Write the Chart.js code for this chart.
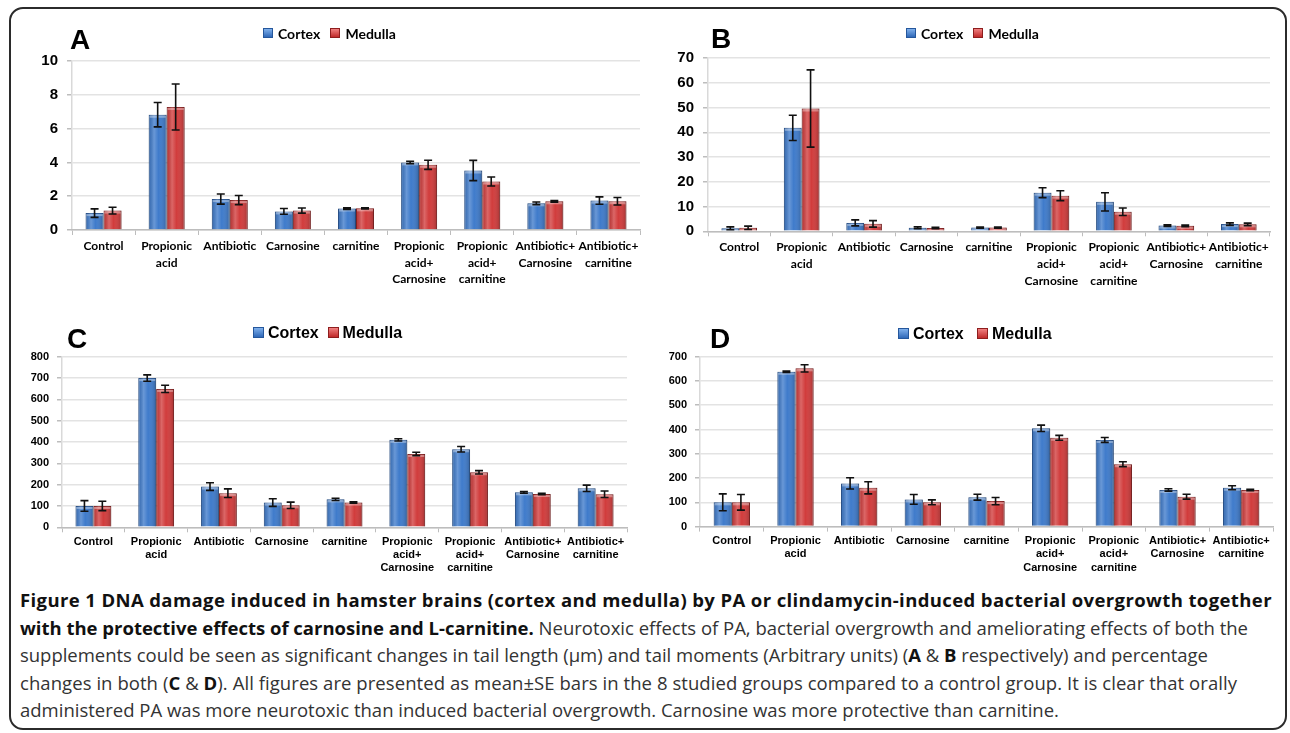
<!DOCTYPE html>
<html>
<head>
<meta charset="utf-8">
<script src="https://cdn.jsdelivr.net/npm/chart.js@4.4.1/dist/chart.umd.min.js"></script>
<style>
  body { margin: 0; background: #fff; width: 1290px; height: 733px; position: relative; overflow: hidden; }
  #frame { position: absolute; left: 9px; top: 7px; width: 1278px; height: 723px; border: 2px solid #2b2b2b;
           border-radius: 14px; box-sizing: border-box; }
  .panel { position: absolute; }
  .tag { position: absolute; font: bold 28px "Liberation Sans", Arial, sans-serif; color: #000; line-height: 1; }
  .leg { position: absolute; white-space: nowrap; color: #000; line-height: 1; }
  .leg i { display: inline-block; width: 8px; height: 8px; margin-right: 5px; vertical-align: 1px; }
  .legAB { font: bold 14px Lato, "Open Sans", sans-serif; }
  .legCD { font: bold 16px "Liberation Sans", Arial, sans-serif; }
  .legCD i { width: 9px; height: 9px; margin-right: 4px; vertical-align: 0; }
  .sq-b { background: linear-gradient(180deg, #7fb0ec, #2f68b8); border: 1px solid #25579c; }
  .sq-r { background: linear-gradient(180deg, #f08080, #c02a2a); border: 1px solid #8e1e1e; }
  #caption { position: absolute; left: 20px; top: 586px; color: #333;
             font-family: "Open Sans", "Noto Sans", sans-serif; font-size: 18.5px; }
  #caption div { white-space: nowrap; height: 27.5px; line-height: 27.5px; }
  #caption b { font-weight: 700; color: #111; }
</style>
</head>
<body>
<div id="frame"></div>

<div class="panel" style="left:10px;top:40px;width:650px;height:265px"><canvas id="chartA"></canvas></div>
<div class="panel" style="left:650px;top:40px;width:640px;height:265px"><canvas id="chartB"></canvas></div>
<div class="panel" style="left:10px;top:335px;width:640px;height:250px"><canvas id="chartC"></canvas></div>
<div class="panel" style="left:650px;top:335px;width:640px;height:250px"><canvas id="chartD"></canvas></div>

<div class="tag" style="left:70px;top:26px">A</div>
<div class="tag" style="left:711px;top:25px">B</div>
<div class="tag" style="left:67px;top:325px">C</div>
<div class="tag" style="left:710px;top:325px">D</div>

<div class="leg legAB" style="left:263px;top:25px"><i class="sq-b"></i>Cortex&nbsp;&nbsp;&nbsp;<i class="sq-r"></i>Medulla</div>
<div class="leg legAB" style="left:906px;top:25px"><i class="sq-b"></i>Cortex&nbsp;&nbsp;&nbsp;<i class="sq-r"></i>Medulla</div>
<div class="leg legCD" style="left:253px;top:324px"><i class="sq-b"></i>Cortex&nbsp;&nbsp;<i class="sq-r"></i>Medulla</div>
<div class="leg legCD" style="left:898px;top:325px"><i class="sq-b"></i>Cortex&nbsp;&nbsp;&nbsp;<i class="sq-r"></i>Medulla</div>

<div id="caption">
  <div data-w="1252"><b>Figure 1 DNA damage induced in hamster brains (cortex and medulla) by PA or clindamycin-induced bacterial overgrowth together</b></div>
  <div data-w="1228"><b>with the protective effects of carnosine and L-carnitine.</b> Neurotoxic effects of PA, bacterial overgrowth and ameliorating effects of both the</div>
  <div data-w="1188">supplements could be seen as significant changes in tail length (μm) and tail moments (Arbitrary units) (<b>A</b> &amp; <b>B</b> respectively) and percentage</div>
  <div data-w="1217">changes in both (<b>C</b> &amp; <b>D</b>). All figures are presented as mean±SE bars in the 8 studied groups compared to a control group. It is clear that orally</div>
  <div data-w="1039">administered PA was more neurotoxic than induced bacterial overgrowth. Carnosine was more protective than carnitine.</div>
</div>

<script>
// Grupos estudiados (eje X)
const groups = [
    ["Control"], ["Propionic", "acid"], ["Antibiotic"], ["Carnosine"], ["carnitine"],
    ["Propionic", "acid+", "Carnosine"], ["Propionic", "acid+", "carnitine"],
    ["Antibiotic+", "Carnosine"], ["Antibiotic+", "carnitine"],
];
const seriesNames = ["Cortex", "Medulla"];

// A: tail length (µm)
const cortexA = [1.0, 6.82, 1.83, 1.10, 1.27, 4.0, 3.52, 1.58, 1.74];
const cortexAErr = [0.25, 0.72, 0.3, 0.17, 0.05, 0.07, 0.6, 0.08, 0.22];
const medullaA = [1.15, 7.28, 1.77, 1.15, 1.28, 3.86, 2.87, 1.7, 1.7];
const medullaAErr = [0.2, 1.36, 0.27, 0.15, 0.03, 0.27, 0.27, 0.05, 0.22];
const ticksA = [0, 2, 4, 6, 8, 10];

// B: tail moment
const cortexB = [1.2, 41.8, 3.4, 1.4, 1.5, 15.6, 11.9, 2.3, 2.9];
const cortexBErr = [0.6, 5.1, 1.2, 0.4, 0.2, 2.0, 3.7, 0.3, 0.5];
const medullaB = [1.4, 49.6, 3.0, 1.3, 1.5, 14.4, 7.9, 2.2, 2.8];
const medullaBErr = [0.7, 15.6, 1.3, 0.3, 0.2, 2.0, 1.5, 0.3, 0.5];
const ticksB = [0, 10, 20, 30, 40, 50, 60, 70];

// C: % tail length
const cortexC = [100, 700, 191, 116, 131, 410, 366, 164, 183];
const cortexCErr = [25, 15, 18, 18, 5, 5, 13, 4, 15];
const medullaC = [100, 649, 160, 103, 116, 344, 258, 156, 155];
const medullaCErr = [22, 17, 20, 15, 3, 8, 8, 3, 15];
const ticksC = [0, 100, 200, 300, 400, 500, 600, 700, 800];

// D: % tail moment
const cortexD = [100, 638, 178, 112, 121, 405, 357, 151, 160];
const cortexDErr = [35, 3, 23, 20, 12, 13, 10, 5, 8];
const medullaD = [100, 652, 160, 100, 105, 366, 257, 123, 151];
const medullaDErr = [32, 15, 25, 10, 15, 10, 10, 10, 3];
const ticksD = [0, 100, 200, 300, 400, 500, 600, 700];

// brillo tipo "cilindro" encima de cada barra
const shinePlugin = {
    id: "shine",
    afterDatasetsDraw(chart) {
        const c = chart.ctx;
        chart.data.datasets.forEach((ds, i) => {
            chart.getDatasetMeta(i).data.forEach((bar) => {
                const x0 = bar.x - bar.width / 2, w = bar.width;
                const h = bar.base - bar.y;
                if (h <= 0) return;
                const g = c.createLinearGradient(x0, 0, x0 + w, 0);
                g.addColorStop(0, "rgba(0,0,0,0.12)");
                g.addColorStop(0.3, "rgba(255,255,255,0.22)");
                g.addColorStop(0.55, "rgba(255,255,255,0.0)");
                g.addColorStop(1, "rgba(0,0,0,0.22)");
                c.save();
                c.fillStyle = g;
                c.fillRect(x0, bar.y, w, h);
                c.fillStyle = "rgba(255,255,255,0.35)";
                c.fillRect(x0 + 1, bar.y + 1, w - 2, Math.min(2, h));
                c.restore();
            });
        });
    },
};

// barras de error (media ± SE)
const errorPlugin = {
    id: "errbars",
    afterDatasetsDraw(chart) {
        const c = chart.ctx, y = chart.scales.y;
        chart.data.datasets.forEach((ds, i) => {
            chart.getDatasetMeta(i).data.forEach((bar, j) => {
                const v = ds.data[j], e = ds.errors[j];
                const yt = y.getPixelForValue(v + e), yb = y.getPixelForValue(v - e);
                c.save();
                c.strokeStyle = "#111";
                c.lineWidth = 1.6;
                c.beginPath();
                c.moveTo(bar.x, yt); c.lineTo(bar.x, yb);
                c.moveTo(bar.x - 4, yt); c.lineTo(bar.x + 4, yt);
                c.moveTo(bar.x - 4, yb); c.lineTo(bar.x + 4, yb);
                c.stroke();
                c.restore();
            });
        });
    },
};

function makePanel(id, cortex, cortexErr, medulla, medullaErr, ticks, o) {
    const ctx = document.getElementById(id);
    new Chart(ctx, {
        type: "bar",
        data: {
            labels: groups,
            datasets: [
                {
                    label: seriesNames[0],
                    data: cortex,
                    errors: cortexErr,
                    backgroundColor: "#3f7bcb",
                    borderColor: "#2a5796",
                    borderWidth: 1,
                },
                {
                    label: seriesNames[1],
                    data: medulla,
                    errors: medullaErr,
                    backgroundColor: "#d13c3c",
                    borderColor: "#8f2323",
                    borderWidth: 1,
                },
            ],
        },
        options: {
            responsive: true,
            maintainAspectRatio: false,
            animation: false,
            categoryPercentage: 0.57,
            barPercentage: 1.0,
            layout: { padding: { top: o.padTop, right: o.padRight, left: 0, bottom: 0 } },
            plugins: { legend: { display: false }, tooltip: { enabled: false } },
            scales: {
                y: {
                    min: 0,
                    max: ticks[ticks.length - 1],
                    afterBuildTicks: (s) => { s.ticks = ticks.map((v) => ({ value: v })); },
                    afterFit: (s) => { s.width = o.yWidth; },
                    border: { color: "#d9d9d9", width: 1.5 },
                    grid: { color: "#e3e3e3", lineWidth: 1.5, tickLength: 5, tickColor: "#bdbdbd" },
                    ticks: {
                        color: "#000",
                        padding: o.yPad,
                        font: { family: "'Liberation Sans', Arial", weight: "bold", size: o.yFont },
                    },
                },
                x: {
                    afterFit: (s) => { s.height = o.xHeight; },
                    border: { color: "#bdbdbd", width: 1.5 },
                    grid: { drawOnChartArea: false, tickLength: 5, color: "#bdbdbd", offset: true },
                    ticks: {
                        color: "#000",
                        padding: 3,
                        maxRotation: 0,
                        autoSkip: false,
                        font: o.xFontObj,
                    },
                },
            },
        },
        plugins: [shinePlugin, errorPlugin],
    });
}

const fontAB = { family: "Lato, 'Open Sans'", weight: "bold", size: 12, lineHeight: 1.38 };
const fontCD = { family: "'Liberation Sans', Arial", weight: "bold", size: 11, lineHeight: 1.2 };

makePanel("chartA", cortexA, cortexAErr, medullaA, medullaAErr, ticksA,
    { padTop: 21, padRight: 20, yWidth: 62, yPad: 9, yFont: 15, xHeight: 75, xFontObj: fontAB });
makePanel("chartB", cortexB, cortexBErr, medullaB, medullaBErr, ticksB,
    { padTop: 17.7, padRight: 20, yWidth: 58, yPad: 9, yFont: 15, xHeight: 73.7, xFontObj: fontAB });
makePanel("chartC", cortexC, cortexCErr, medullaC, medullaCErr, ticksC,
    { padTop: 21.7, padRight: 23, yWidth: 52, yPad: 8, yFont: 11, xHeight: 57.7, xFontObj: fontCD });
makePanel("chartD", cortexD, cortexDErr, medullaD, medullaDErr, ticksD,
    { padTop: 21.7, padRight: 17, yWidth: 50, yPad: 8, yFont: 11, xHeight: 58.4, xFontObj: fontCD });

// ajustar cada línea del pie de figura a su ancho original
document.querySelectorAll("#caption div").forEach((d) => {
    const target = +d.dataset.w;
    d.style.display = "inline-block";
    const w = d.getBoundingClientRect().width;
    const n = d.textContent.length;
    d.style.letterSpacing = ((target - w) / n).toFixed(3) + "px";
    d.style.display = "block";
});
</script>
</body>
</html>
